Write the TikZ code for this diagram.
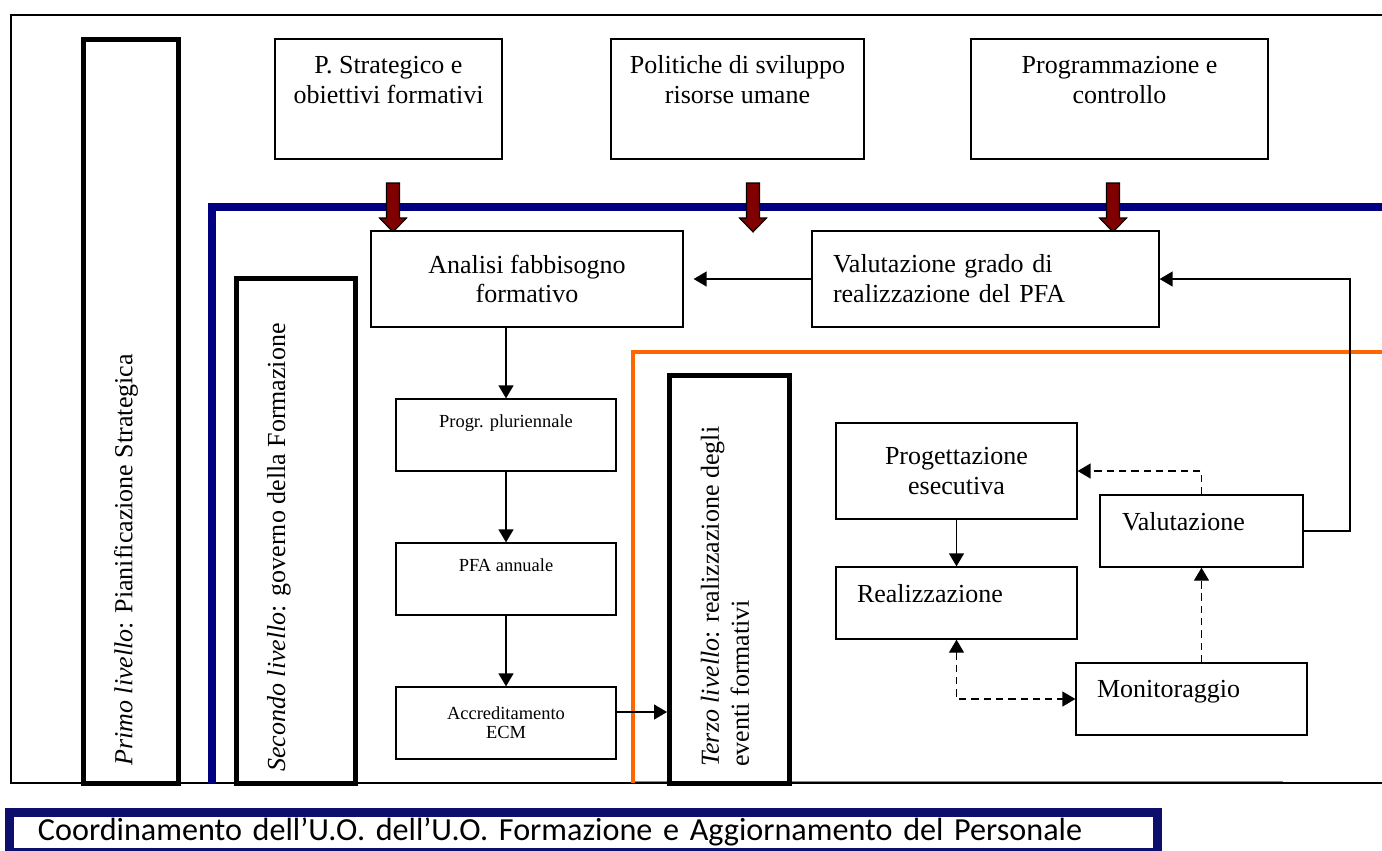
\documentclass[tikz,border=0pt]{standalone}
\usepackage{fontspec}
\setmainfont{Liberation Serif}
\newfontfamily\barfont{Carlito}
\usetikzlibrary{arrows.meta,calc,positioning}
\definecolor{lineblue}{RGB}{0,0,128}
\definecolor{barnavy}{RGB}{14,14,108}
\definecolor{lineorange}{RGB}{255,102,0}
\definecolor{arrowred}{RGB}{128,0,0}

\begin{document}
\begin{tikzpicture}[x=0.02cm,y=-0.02cm,
  >={Triangle[length=0.26cm,width=0.3cm]},
  font=\fontsize{14.8}{17}\selectfont,
  box/.style={draw,fill=white,line width=.75pt,inner sep=0pt,align=center},
  small/.style={font=\fontsize{10.5}{11}\selectfont},
  upper/.style={text depth=0.4cm},
  lvl/.style={draw,fill=white,line width=2.85pt,inner sep=0pt},
  rot/.style={rotate=90,anchor=west,inner sep=0pt,align=left},
  flow/.style={->,line width=.75pt},
  dflow/.style={flow,dash pattern=on 4.2pt off 2.8pt},
  blockarr/.style={fill=arrowred,draw=black,line width=.6pt}]
\useasboundingbox (0,0) rectangle (1382,850);
% frame and level borders
\draw[line width=.85pt] (1382,15) -- (11,15) -- (11,783) -- (1382,783);
\draw[lineblue,line width=4.5pt] (1382,207) -- (212,207) -- (212,783);
\draw[lineorange,line width=2.8pt] (1382,352) -- (633,352) -- (633,783);
\draw[lineorange,line width=1.1pt] (633,781.5) -- (1283,781.5);
% levels
\node[lvl,minimum width=1.9cm,minimum height=14.9cm] (primo) at (131,411.5) {};
\node[lvl,minimum width=2.38cm,minimum height=10.12cm] (secondo) at (296,531) {};
\node[lvl,minimum width=2.4cm,minimum height=8.18cm] (terzo) at (729.5,579.5) {};
\node[rot] (primotxt) at (126,766) {\textit{Primo livello}: Pianificazione Strategica};
\node[rot] (secondotxt) at (279,772) {\textit{Secondo livello}: governo della Formazione};
\node[rot] (terzotxt) at (725,767) {\textit{Terzo livello}: realizzazione degli\\eventi formativi};
% first level inputs
\node[box,minimum width=4.54cm,minimum height=2.4cm] (strat) at (388.5,99)
 {P. Strategico e\\obiettivi formativi\\\strut};
\node[box,minimum width=5.06cm,minimum height=2.4cm] (polit) at (737.5,99)
 {Politiche di sviluppo\\risorse umane\\\strut};
\node[box,minimum width=5.94cm,minimum height=2.4cm] (progc) at (1119.5,99)
 {Programmazione e\\controllo\\\strut};
\foreach \ax in {393,753,1113}
 \draw[blockarr] (\ax-6.5,183) -- (\ax+6.5,183) -- (\ax+6.5,218) -- (\ax+13.5,218)
  -- (\ax,232) -- (\ax-13.5,218) -- (\ax-6.5,218) -- cycle;
% second level
\node[box,minimum width=6.24cm,minimum height=1.92cm] (afab) at (527,279)
 {Analisi fabbisogno\\formativo};
\node[box,align=left,text width=6.1cm,inner xsep=0.42cm,minimum height=1.92cm] (vgr)
 at (985.5,279) {Valutazione grado di\\realizzazione del PFA};
\node[box,small,minimum width=4.4cm,minimum height=1.44cm,text depth=0.57cm] (ppl)
 at (506,435) {Progr. pluriennale};
\node[box,small,minimum width=4.4cm,minimum height=1.44cm,text depth=0.57cm] (pfa)
 at (506,579) {PFA annuale};
\node[box,small,minimum width=4.4cm,minimum height=1.44cm] (ecm)
 at (506,723) {Accreditamento\\ECM};
% third level
\node[box,minimum width=4.82cm,minimum height=1.92cm] (prog) at (956.5,471)
 {Progettazione\\esecutiva};
\node[box,align=left,text width=3.98cm,inner xsep=0.42cm,minimum height=1.44cm,upper]
 (real) at (956.5,603) {Realizzazione};
\node[box,align=left,text width=3.18cm,inner xsep=0.44cm,minimum height=1.44cm,upper]
 (val) at (1201.5,531) {Valutazione};
\node[box,align=left,text width=3.78cm,inner xsep=0.42cm,minimum height=1.44cm,upper]
 (mon) at (1191.5,699) {Monitoraggio};
% connections
\coordinate (fbk) at (1350,279);
\draw[flow,shorten >=0.2cm] (vgr) -- (afab);
\draw[flow] (val.east) -| (fbk) -- (vgr.east);
\draw[flow] (ppl.north |- afab.south) -- (ppl.north);
\draw[flow] (ppl) -- (pfa);
\draw[flow] (pfa) -- (ecm);
\draw[flow] ($(ecm.east)+(0,-11)$) -- ($(terzo.west |- ecm.east)+(0,-11)$);
\draw[flow] (prog) -- (real);
\draw[dflow] (val.north) |- (prog.east);
\draw[dflow] (val.south |- mon.north) -- (val.south);
\draw[dflow,<->] (real.south) |- (mon.west);
% coordination bar
\node[draw=barnavy,line width=5.1pt,minimum width=22.96cm,minimum height=0.79cm,
 text width=21.82cm,inner xsep=0.57cm,inner ysep=0pt,align=left,anchor=north west,
 font=\barfont\fontsize{18.3}{20}\selectfont] (coord) at (5,808)
 {Coordinamento dell’U.O. dell’U.O. Formazione e Aggiornamento del Personale};
\end{tikzpicture}
\end{document}
